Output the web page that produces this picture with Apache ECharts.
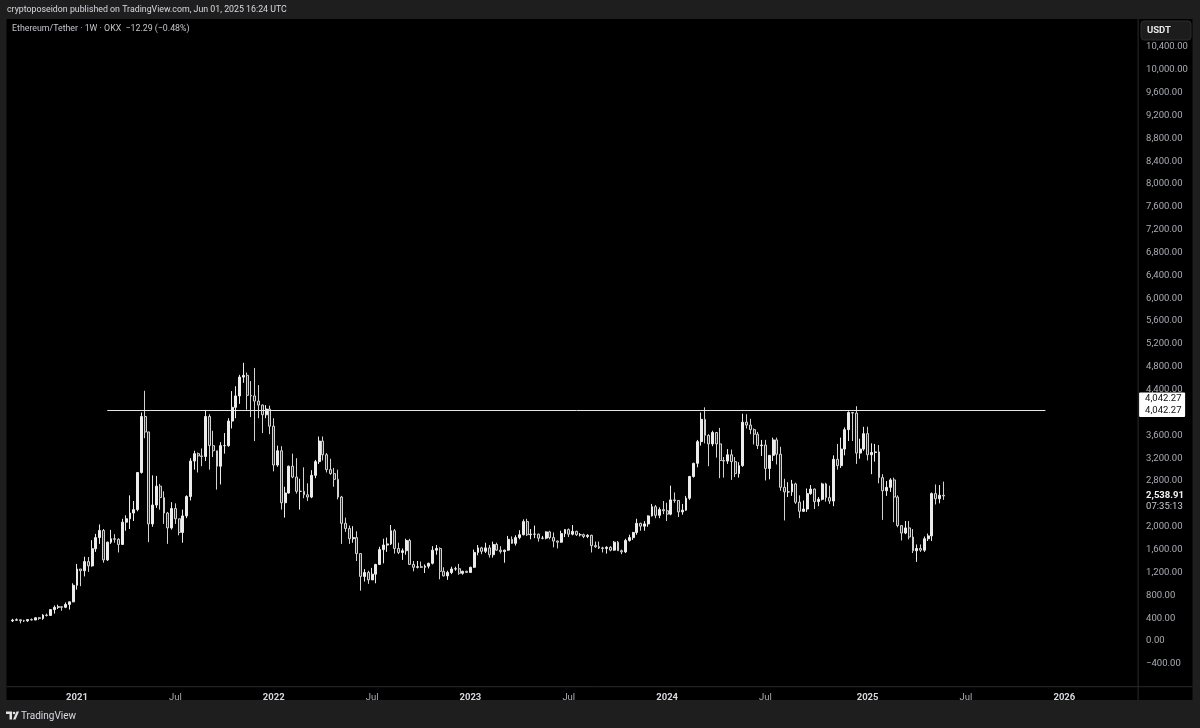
<!DOCTYPE html>
<html>
<head>
<meta charset="utf-8">
<title>Ethereum/Tether 1W</title>
<script src="https://cdn.jsdelivr.net/npm/echarts/dist/echarts.min.js"></script>
<style>
html,body{margin:0;padding:0;background:#1e1e1e;}
#chart{width:1200px;height:728px;}
</style>
</head>
<body>
<div id="chart"></div>
<script>
// Weekly candles, each row [open, high, low, close]; first week starts 2020-09-07
const firstWeek = '2020-09-07';
const weekCount = 298;
const ohlc2020 = [
[352,388,332,365],[365,395,360,371],[371,378,308,354],[354,370,333,353],[353,377,335,375],
[375,395,360,368],[368,418,365,406],[406,417,370,396],[396,470,370,453],[453,480,430,447],
[447,560,445,550],[550,622,480,590],[590,636,560,600],[600,603,530,590],[590,675,575,640],
[640,690,550,685],[685,1010,680,975]
];
const ohlc2021 = [
[975,1350,900,1260],[1260,1260,960,1230],[1230,1475,1130,1390],[1390,1470,1210,1315],
[1315,1765,1300,1615],[1615,1875,1560,1810],[1810,2040,1700,1935],[1935,1960,1370,1420],
[1420,1740,1400,1730],[1730,1945,1700,1790],[1790,1870,1720,1780],[1780,1800,1550,1690],
[1690,2140,1680,2080],[2080,2200,1930,2140],[2140,2550,1960,2240],[2240,2450,2100,2300],
[2300,2950,2270,2950],[2950,4000,2930,3930],[3930,4380,3550,3660],[3660,3660,1730,2050],
[2050,2900,2000,2380],[2380,2890,2330,2710],[2710,2750,2300,2510],[2510,2620,2050,2240],
[2240,2260,1700,1980],[1980,2430,1950,2320],[2320,2410,2050,2140],[2140,2140,1850,1900],
[1900,2300,1720,2190],[2190,2550,2150,2530],[2530,3200,2460,3150],[3150,3330,3000,3280],
[3280,3300,2950,3240],[3240,3370,3060,3230],[3230,4030,3150,3930],[3930,3970,3000,3420],
[3420,3680,3220,3330],[3330,3330,2650,3060],[3060,3480,2740,3420],[3420,3640,3280,3420],
[3420,3900,3400,3850],[3850,4375,3720,4090],[4090,4460,3900,4290],[4290,4660,4150,4620],
[4620,4870,4520,4650],[4650,4700,4050,4300],[4300,4550,3920,4290],[4290,4780,3500,4200],
[4200,4480,3900,4130],[4130,4140,3640,3960],[3960,4130,3900,4060],[4060,4120,3620,3760]
];
const ohlc2022 = [
[3760,3900,2970,3080],[3080,3420,3050,3330],[3330,3410,2300,2420],[2420,2700,2160,2590],
[2590,3070,2580,3060],[3060,3280,2850,2870],[2870,3200,2580,2620],[2620,2840,2300,2620],
[2620,3040,2500,2560],[2560,2760,2450,2520],[2520,2990,2500,2900],[2900,3170,2850,3140],
[3140,3580,3100,3500],[3500,3580,3160,3260],[3260,3290,2950,3000],[3000,3190,2910,2930],
[2930,3030,2700,2830],[2830,3000,2480,2520],[2520,2540,1700,2060],[2060,2160,1910,1970],
[1970,2020,1700,1790],[1790,2010,1720,1810],[1810,1920,1400,1530],[1530,1540,880,1130],
[1130,1260,1040,1200],[1200,1230,1000,1070],[1070,1280,1070,1170],[1170,1350,1010,1340],
[1340,1650,1330,1600],[1600,1790,1360,1680],[1680,1810,1560,1700],[1700,2030,1680,1930],
[1930,1960,1530,1620],[1620,1720,1520,1550],[1550,1620,1420,1580],[1580,1790,1510,1760],
[1760,1790,1330,1340],[1340,1400,1220,1290],[1290,1400,1270,1300],[1300,1390,1280,1290],
[1290,1340,1190,1310],[1310,1370,1270,1360],[1360,1660,1340,1590],[1590,1680,1510,1620],
[1620,1640,1080,1220],[1220,1290,1130,1140],[1140,1230,1070,1200],[1200,1300,1170,1260],
[1260,1300,1230,1265],[1265,1350,1160,1185],[1185,1230,1160,1220],[1220,1230,1190,1200]
];
const ohlc2023 = [
[1200,1300,1190,1290],[1290,1600,1280,1550],[1550,1680,1500,1630],[1630,1650,1520,1570],
[1570,1720,1540,1630],[1630,1680,1460,1510],[1510,1740,1460,1690],[1690,1720,1580,1590],
[1590,1660,1530,1565],[1565,1600,1370,1590],[1590,1840,1580,1780],[1780,1830,1700,1710],
[1710,1850,1670,1810],[1810,1940,1780,1860],[1860,2130,1850,2090],[2090,2140,1840,1860],
[1860,1960,1780,1870],[1870,2020,1800,1870],[1870,1880,1740,1800],[1800,1840,1780,1800],
[1800,1920,1780,1910],[1910,1930,1780,1810],[1810,1900,1640,1750],[1750,1760,1620,1730],
[1730,1930,1720,1880],[1880,1960,1820,1950],[1950,1970,1820,1870],[1870,2030,1850,1920],
[1920,1930,1840,1860],[1860,1890,1830,1860],[1860,1880,1800,1830],[1830,1870,1800,1850],
[1850,1860,1550,1670],[1670,1740,1630,1650],[1650,1740,1610,1630],[1630,1650,1550,1620],
[1620,1660,1530,1640],[1640,1660,1570,1590],[1590,1750,1580,1730],[1730,1750,1580,1580],
[1580,1600,1520,1560],[1560,1790,1540,1760],[1760,1860,1740,1810],[1810,1910,1770,1900],
[1900,2140,1860,2060],[2060,2070,1930,2010],[2010,2100,1930,2050],[2050,2200,2000,2190],
[2190,2400,2180,2350],[2350,2380,2150,2200],[2200,2340,2150,2300],[2300,2450,2220,2280]
];
const ohlc2024 = [
[2280,2420,2100,2220],[2220,2720,2200,2470],[2470,2600,2420,2460],[2460,2460,2170,2260],
[2260,2400,2210,2290],[2290,2540,2280,2500],[2500,2890,2470,2880],[2880,3120,2860,3110],
[3110,3520,3040,3490],[3490,4000,3420,3880],[3880,4090,3460,3600],[3600,3620,3060,3450],
[3450,3680,3410,3650],[3650,3660,3210,3450],[3450,3730,2850,3160],[3160,3220,2860,3150],
[3150,3360,3100,3260],[3260,3350,2820,3140],[3140,3220,2870,2930],[2930,3130,2860,3070],
[3070,3980,3050,3830],[3830,3970,3720,3780],[3780,3890,3620,3700],[3700,3720,3440,3620],
[3620,3660,3360,3420],[3420,3520,3240,3430],[3430,3520,2810,3020],[3020,3250,2830,3250],
[3250,3560,3150,3520],[3520,3560,3090,3270],[3270,3400,2630,2690],[2690,2840,2110,2610],
[2610,2780,2520,2610],[2610,2820,2540,2750],[2750,2770,2400,2430],[2430,2550,2150,2270],
[2270,2460,2260,2310],[2310,2670,2260,2580],[2580,2730,2560,2660],[2660,2670,2310,2440],
[2440,2520,2360,2480],[2480,2770,2460,2750],[2750,2770,2440,2510],[2510,2720,2400,2450],
[2450,3250,2360,3180],[3180,3450,3000,3070],[3070,3560,3030,3360],[3360,3740,3250,3700],
[3700,4020,3500,4000],[4000,4010,3500,3990],[3990,4110,3100,3290],[3290,3540,3190,3360],
[3360,3750,3330,3630]
];
const ohlc2025 = [
[3630,3750,3160,3260],[3260,3460,2920,3300],[3300,3450,3140,3310],[3310,3430,2760,2860],
[2860,2920,2120,2630],[2630,2800,2540,2690],[2690,2850,2610,2820],[2820,2860,2080,2520],
[2520,2550,1990,2020],[2020,2020,1760,1890],[1890,2100,1870,1980],[1980,2100,1780,1820],
[1820,1960,1540,1580],[1580,1690,1385,1620],[1620,1690,1560,1590],[1590,1830,1560,1790],
[1790,1880,1750,1840],[1840,2600,1750,2580],[2580,2740,2390,2490],[2490,2730,2410,2551],
[2551,2790,2470,2538.91]
];
// x tick labels (first weekly bar of the month)
const tickDates = ['2021-01-04','2021-07-05','2022-01-03','2022-07-04','2023-01-02','2023-07-03',
                   '2024-01-01','2024-07-01','2025-01-06','2025-07-07','2026-01-05'];
const tickTexts = ['2021','Jul','2022','Jul','2023','Jul','2024','Jul','2025','Jul','2026'];
// horizontal resistance line
const levelValue = 4042.27;
const levelStart = '2021-03-01';
const levelEnd = '2025-12-01';
const lastPrice = 2538.91;
const countdown = '07:35:13';

// weekly category axis
const categories = [];
{
  const t0 = Date.parse(firstWeek + 'T00:00:00Z');
  for (let i = 0; i < weekCount; i++) {
    categories.push(new Date(t0 + i * 7 * 86400000).toISOString().slice(0, 10));
  }
}
const rows = [].concat(ohlc2020, ohlc2021, ohlc2022, ohlc2023, ohlc2024, ohlc2025);
const candleData = rows.map(r => [r[0], r[3], r[2], r[1]]);

const fmt = v => {
  const s = Math.abs(v).toLocaleString('en-US', {minimumFractionDigits: 2, maximumFractionDigits: 2});
  return (v < 0 ? '\u2212' : '') + s;
};

const chart = echarts.init(document.getElementById('chart'), null, {renderer: 'canvas'});
const FONT = 'Roboto, "Liberation Sans", sans-serif';

const option = {
  backgroundColor: '#000000',
  animation: false,
  grid: {left: 10.8, right: 61.9, top: 24.05, bottom: 41.3},
  xAxis: {
    type: 'category',
    data: categories,
    boundaryGap: true,
    axisLine: {show: false},
    axisTick: {show: false},
    splitLine: {show: false},
    axisLabel: {
      interval: (i, v) => tickDates.indexOf(v) >= 0,
      formatter: v => {
        const k = tickDates.indexOf(v);
        const t = tickTexts[k];
        return t === 'Jul' ? '{m|' + t + '}' : '{y|' + t + '}';
      },
      margin: 6,
      rich: {
        y: {color: '#d6d8de', fontSize: 9.5, fontWeight: 'bold', fontFamily: FONT},
        m: {color: '#a9acb4', fontSize: 9.5, fontFamily: FONT}
      }
    }
  },
  yAxis: {
    type: 'value',
    position: 'right',
    min: -800,
    max: 10800,
    interval: 400,
    axisLine: {show: false},
    axisTick: {show: false},
    splitLine: {show: false},
    axisLabel: {
      margin: 8,
      color: '#a9acb4',
      fontSize: 9.5,
      fontFamily: FONT,
      showMinLabel: false,
      showMaxLabel: false,
      formatter: v => (v === 2400 || v === 4000) ? '' : fmt(v)
    }
  },
  series: [{
    type: 'candlestick',
    data: candleData,
    barWidth: 2.4,
    itemStyle: {
      color: '#ececec', color0: '#2c2c2c',
      borderColor: '#ececec', borderColor0: '#d2d2d2',
      borderWidth: 1
    },
    markLine: {
      silent: true,
      symbol: ['none', 'none'],
      label: {show: false},
      lineStyle: {color: '#e6e6e6', width: 1, type: 'solid'},
      data: [[
        {coord: [categories.indexOf(levelStart), levelValue]},
        {coord: [categories.indexOf(levelEnd), levelValue]}
      ]]
    }
  }],
  graphic: []
};
chart.setOption(option);

// overlays positioned from the axis scales
const yLevel = chart.convertToPixel({yAxisIndex: 0}, levelValue);
const yLast = chart.convertToPixel({yAxisIndex: 0}, lastPrice);
const paneRight = chart.convertToPixel({xAxisIndex: 0}, categories[weekCount - 1]) + 1.9;
const paneBottom = chart.convertToPixel({yAxisIndex: 0}, -800);

const g = [
  // frame / outer bars
  {type: 'rect', shape: {x: 0, y: 0, width: 1200, height: 19}, style: {fill: '#1e1e1e'}, z: 10},
  {type: 'rect', shape: {x: 0, y: 700, width: 1200, height: 28}, style: {fill: '#1e1e1e'}, z: 10},
  {type: 'rect', shape: {x: 0, y: 0, width: 6.5, height: 728}, style: {fill: '#1e1e1e'}, z: 10},
  {type: 'rect', shape: {x: 1192.5, y: 0, width: 7.5, height: 728}, style: {fill: '#1e1e1e'}, z: 10},
  {type: 'line', shape: {x1: paneRight, y1: 19, x2: paneRight, y2: 700}, style: {stroke: '#2b2b2b', lineWidth: 1}, z: 10},
  {type: 'line', shape: {x1: 6.5, y1: paneBottom, x2: 1192.5, y2: paneBottom}, style: {stroke: '#2b2b2b', lineWidth: 1}, z: 10},
  // header texts
  {type: 'text', x: 7, y: 10, style: {text: 'cryptoposeidon published on TradingView.com, Jun 01, 2025 16:24 UTC',
    fill: '#d8dae0', font: '8.8px ' + FONT, textVerticalAlign: 'middle'}, z: 11},
  {type: 'text', x: 12, y: 29, style: {text: 'Ethereum/Tether \u00b7 1W \u00b7 OKX  \u221212.29 (\u22120.48%)',
    fill: '#c2c4ca', font: '8.8px ' + FONT, textVerticalAlign: 'middle'}, z: 11},
  // currency box
  {type: 'rect', shape: {x: 1141, y: 21, width: 50, height: 19, r: 3}, style: {fill: '#1c1c1c', stroke: '#2c2c2c'}, z: 11},
  {type: 'text', x: 1147, y: 30.5, style: {text: 'USDT', fill: '#e6e6e6', font: 'bold 9.5px ' + FONT, textVerticalAlign: 'middle'}, z: 12},
  // level label box
  {type: 'rect', shape: {x: paneRight + 1, y: yLevel - 17.5, width: 46, height: 24.5, r: 1}, style: {fill: '#ffffff'}, z: 11},
  {type: 'text', x: paneRight + 7, y: yLevel - 11.5, style: {text: fmt(levelValue), fill: '#111111', font: '9.5px ' + FONT, textVerticalAlign: 'middle'}, z: 12},
  {type: 'text', x: paneRight + 7, y: yLevel + 0.5, style: {text: fmt(levelValue), fill: '#111111', font: '9.5px ' + FONT, textVerticalAlign: 'middle'}, z: 12},
  // last price label
  {type: 'text', x: paneRight + 8, y: yLast - 0.5, style: {text: fmt(lastPrice), fill: '#f2f2f2', font: 'bold 9.5px ' + FONT, textVerticalAlign: 'middle'}, z: 12},
  {type: 'text', x: paneRight + 8, y: yLast + 10.5, style: {text: countdown, fill: '#c8cad0', font: '9.5px ' + FONT, textVerticalAlign: 'middle'}, z: 12},
  // footer logo + name
  {type: 'polygon', shape: {points: [[6,711.5],[12,711.5],[12,719.5],[9.5,719.5],[9.5,714],[6,714]]}, style: {fill: '#e0e0e0'}, z: 12},
  {type: 'circle', shape: {cx: 14, cy: 713, r: 1.3}, style: {fill: '#e0e0e0'}, z: 12},
  {type: 'polygon', shape: {points: [[16.5,711.5],[19,711.5],[15.5,719.5],[13,719.5]]}, style: {fill: '#e0e0e0'}, z: 12},
  {type: 'text', x: 21, y: 716, style: {text: 'TradingView', fill: '#d8dae0', font: '10px ' + FONT, textVerticalAlign: 'middle'}, z: 12}
];
chart.setOption({graphic: g});
</script>
</body>
</html>
